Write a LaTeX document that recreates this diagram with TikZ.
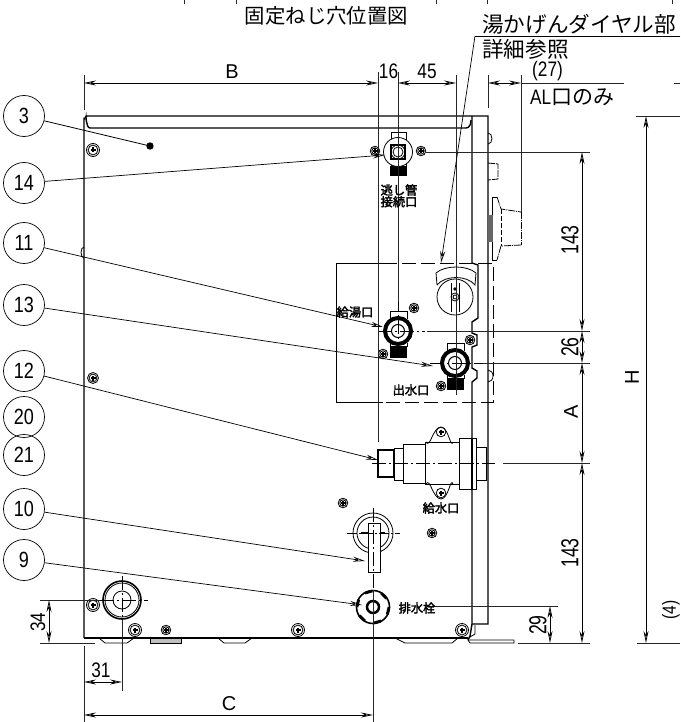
\documentclass[tikz,border=0pt]{standalone}
\usepackage{fontspec}
\setmainfont{Liberation Sans}
\newfontfamily\numfont[FakeStretch=0.82]{Liberation Sans}
\newfontfamily\tallfont[FakeStretch=0.72]{Liberation Sans}
\newfontfamily\jpfont{Noto Sans CJK JP}
\newfontfamily\jpbold[FakeBold=2.6]{Noto Sans CJK JP}
\usetikzlibrary{positioning, arrows.meta}
\tikzstyle{outline}=[line width=1.4pt, draw=black]
\tikzstyle{thinline}=[line width=.8pt, draw=black]
\tikzstyle{extline}=[line width=.8pt, draw=black!85]
\tikzstyle{centerline}=[line width=.7pt, draw=black, dash pattern=on 14pt off 3pt on 2pt off 3pt]
\tikzstyle{hiddenline}=[line width=.8pt, draw=black, dash pattern=on 14pt off 5pt]
\tikzstyle{dimline}=[line width=.8pt, draw=black, {Stealth[open,length=12pt,width=5pt]}-{Stealth[open,length=12pt,width=5pt]}]
\tikzstyle{leader}=[line width=.7pt, draw=black, -{Stealth[open,length=12pt,width=5pt]}]
\tikzstyle{partno}=[circle, minimum size=41pt, inner sep=0pt, draw=black, line width=.7pt, font=\numfont\fontsize{22}{22}\selectfont]
\tikzstyle{dimnum}=[inner sep=0pt, font=\numfont\fontsize{21}{21}\selectfont]
\tikzstyle{dimtall}=[inner sep=0pt, rotate=90, font=\tallfont\fontsize{24.5}{24.5}\selectfont]
\tikzstyle{dimletter}=[inner sep=0pt, font=\fontsize{20}{20}\selectfont]
\tikzstyle{jpbig}=[inner sep=0pt, font=\jpfont\fontsize{21.6}{21.6}\selectfont]
\tikzstyle{jpsmall}=[inner sep=0pt, font=\jpbold\fontsize{12.2}{12.2}\selectfont]
\begin{document}
\begin{tikzpicture}[x=1pt,y=-1pt]
    \useasboundingbox (0,0) rectangle (680,722);
    %ticks cut off by the top edge
    \foreach \x in {184,236,436,487,672}{
        \draw[extline] (\x,0) -- (\x,4);
    }
    \node[jpbig, font=\jpfont\fontsize{20.4}{20.4}\selectfont] (title) at (326.5,16) {固定ねじ穴位置図};
    \node[jpbig, anchor=west] (dial) at (482,24) {湯かげんダイヤル部};
    \node[jpbig, anchor=west] (detail) at (482,49) {詳細参照};
    \node[dimnum, anchor=west] (alonly) at (530,97) {AL\jpfont 口のみ};
    %cabinet
    \draw[outline] (84,638) -- (84,119) to[out=-90,in=180] (87,116) -- (488,116) -- (488,624) -- (472,624);
    \draw[outline] (86,118) to[out=90,in=180] (90,128) -- (466,128) to[out=0,in=-90] (471,120);
    \draw[outline] (84,638) -- (468,638);
    \draw[outline] (472,116) -- (472,263) -- (478,265) -- (478,318) -- (472,322) -- (472,333) -- (477,335) -- (477,345) -- (472,347) -- (472,368) -- (477,371) -- (477,378) -- (472,382) -- (472,624) -- (470,636) -- (468,640);
    \draw[thinline] (468,640) -- (514,640) -- (514,643) -- (470,643) -- (468,640);
    \draw[thinline] (475,625) -- (475,634) -- (470,637);
    %tabs under the bottom edge
    \draw[thinline] (99,638) -- (105,643) -- (127,643) -- (134,638);
    \draw[thinline, fill=black!25] (150,638) rectangle (181,643);
    \draw[thinline] (218,638) -- (224,643) -- (245,643) -- (252,638);
    \draw[thinline] (395,638) -- (405,643) -- (452,643) -- (458,638);
    %bumps on the edges
    \draw[thinline] (84,247) arc (-90:-270:3 and 5.5);
    \draw[thinline] (488,133) arc (-90:90:4 and 5.5);
    \draw[thinline] (488,370) arc (-90:90:5 and 6);
    \draw[thinline, dash pattern=on 7pt off 1pt] (488,163) -- (498,164) -- (498,179) -- (488,180);
    %knob at the side
    \draw[thinline] (497,260) -- (492,260) -- (492,197) -- (497,197);
    \draw[thinline, dash pattern=on 7pt off 1pt on 1pt off 1pt] (497,197) -- (501,209) -- (521,212);
    \draw[thinline, dash pattern=on 7pt off 1pt on 1pt off 1pt] (521,245) -- (501,246) -- (497,260);
    \draw[thinline, dash pattern=on 7pt off 1pt on 1pt off 1pt] (521,212) -- (521,245);
    \draw[thinline, dash pattern=on 5pt off 2pt] (501,209) -- (501,246);
    \fill[black!60] (488,215) rectangle (493,242);
    %dashed detail frame
    \draw[thinline] (383,263) -- (336,263) -- (336,402) -- (383,402);
    \draw[hiddenline] (383,263) -- (493,263) -- (493,402) -- (383,402);
    %screws
    \foreach \x/\y/\r in {93/150/6.5,375/151/4.8,421/151/4.8,414/308/4.8,383/354/4.8,470/340/4.8,441/386/4.8,93/378/5.5,343/503/4.8,432/533/4.8,93/605/6.5,135/630/6.5,166/630/4.8,298/630/6.5,462/630/6.5}{
        \draw[thinline, fill=white] (\x,\y) circle (\r);
        \draw[thinline] (\x,\y) circle (\r-1.6);
        \draw[line width=1.5pt] (\x-2.5,\y) -- (\x+2.5,\y) (\x,\y-2.5) -- (\x,\y+2.5);
    }
    %upper fitting
    \draw[thinline] (391,140) -- (391,132) -- (406,132) -- (406,140);
    \draw[thinline] (391,162) -- (391,166) (406,162) -- (406,166);
    \fill (390,166) rectangle (407,176);
    \draw[thinline, fill=white] (398,152) circle (14.5);
    \draw[line width=2.4pt] (391,145) rectangle (405,159);
    \draw[thinline] (398,152) circle (5) (398,152) circle (7);
    %lower fittings, same drawing
    \foreach \cx/\cy in {398/331,455/363}{
        \draw[thinline] (\cx-8,\cy-20) -- (\cx+9,\cy-20) (\cx-8,\cy-20) -- (\cx-8,\cy-12) (\cx+9,\cy-20) -- (\cx+9,\cy-12);
        \draw[thinline] (\cx-8,\cy+12) -- (\cx-8,\cy+16) (\cx+9,\cy+12) -- (\cx+9,\cy+16);
        \fill (\cx-8,\cy+15) rectangle (\cx+9,\cy+27);
        \draw[line width=4pt, fill=white] (\cx,\cy) circle (13);
        \draw[line width=1pt] (\cx,\cy) circle (6.5);
    }
    \draw[centerline] (378,331) -- (425,331);
    \draw[centerline] (398,298) -- (398,350);
    \draw[centerline] (430,363) -- (483,363);
    %mixing dial
    \draw[thinline] (455,297) circle (18);
    \draw[thinline] (437,285) -- (436,273) .. controls (445,265) and (467,265) .. (476,273) -- (475,285) .. controls (467,275) and (445,275) .. (437,285);
    \draw[thinline] (455,297) circle (4) (455,297) circle (2);
    \draw[thinline] (451,283) -- (451,312) (459,283) -- (459,312);
    \fill (455,289) circle (1.8);
    %supply connector
    \draw[thinline] (426,442) to[out=-60,in=180] (441,427) to[out=0,in=-110] (453,442);
    \draw[thinline] (426,484) to[out=60,in=180] (441,499) to[out=0,in=110] (453,484);
    \draw[line width=1.5pt, fill=white] (378,450) rectangle (394,477);
    \draw[thinline] (394,448) rectangle (403,480);
    \draw[thinline] (403,444) rectangle (425,483);
    \draw[thinline] (425,442) rectangle (459,484);
    \draw[thinline] (459,438) rectangle (476,489);
    \draw[thinline] (476,447) -- (486,447) -- (486,480) -- (476,480);
    \draw[line width=1.5pt] (472,438) -- (472,489);
    \foreach \x/\y in {441/432,441/493}{
        \draw[thinline, fill=white] (\x,\y) circle (4.8);
        \draw[line width=1.2pt] (\x-2.5,\y) -- (\x+2.5,\y) (\x,\y-2.5) -- (\x,\y+2.5);
    }
    %handle
    \draw[thinline] (373,533) circle (20) (373,533) circle (16);
    \draw[line width=1.4pt] (361,533) -- (385,533);
    \draw[thinline, fill=white] (368,523) rectangle (380,572);
    \draw[centerline] (373,508) -- (373,590);
    \draw[thinline, dash pattern=on 10pt off 2pt on 2pt off 2pt] (347,533) -- (400,533);
    %drain plug
    \draw[line width=1.6pt, fill=white] (373,607) circle (16.5);
    \foreach \a in {0,60,...,300}{
        \draw[line width=2.6pt] ([shift={(\a:16)}]373,607) -- ([shift={(\a+28:16)}]373,607);
    }
    \draw[line width=2.5pt] (373,607) circle (6);
    %big hole at lower left
    \draw[line width=1.6pt] (122,600) circle (19);
    \draw[thinline] (122,600) circle (17);
    \draw[thinline] (122,600) circle (9);
    \draw[centerline] (122,576) -- (122,622);
    \draw[centerline] (100,600) -- (148,600);
    %extension lines
    \draw[extline] (84,75) -- (84,110);
    \draw[extline] (378,72) -- (378,442);
    \draw[extline] (398,72) -- (398,302);
    \draw[extline] (456,75) -- (456,395);
    \draw[extline] (488,75) -- (488,108);
    \draw[extline] (521,75) -- (521,212);
    \draw[extline] (636,116) -- (680,116);
    \draw[extline] (426,152) -- (590,152);
    \draw[extline] (427,331) -- (590,331);
    \draw[extline] (483,363) -- (590,363);
    \draw[extline] (503,463) -- (590,463);
    \draw[centerline] (372,463) -- (495,463);
    \draw[extline] (427,606) -- (558,606);
    \draw[extline] (518,643) -- (590,643);
    \draw[extline] (637,643) -- (680,643);
    \draw[extline] (40,600) -- (100,600);
    \draw[extline] (40,643) -- (95,643);
    \draw[extline] (84,646) -- (84,722);
    \draw[extline] (122,620) -- (122,691);
    \draw[extline] (373,590) -- (373,722);
    %dimensions across the top
    \draw[dimline] (84,83) -- (378,83);
    \draw[dimline] (398,83) -- (456,83);
    \draw[dimline] (488,83) -- (521,83);
    \draw[extline] (521,83) -- (624,83);
    \draw[extline] (674,83) -- (680,83);
    \node[dimletter] (dimb) at (232,72) {B};
    \node[dimnum] (dim16) at (388.5,71) {16};
    \node[dimnum] (dim45) at (427,71) {45};
    \node[dimnum] (dim27) at (547.5,71) {(27)};
    %dimensions at the right
    \draw[dimline] (582,152) -- (582,331);
    \draw[dimline] (582,331) -- (582,363);
    \draw[dimline] (582,363) -- (582,463);
    \draw[dimline] (582,463) -- (582,643);
    \draw[dimline] (550,606) -- (550,643);
    \draw[dimline] (646,116) -- (646,643);
    \node[dimtall] (dimu) at (570,240) {143};
    \node[dimtall] (dimv) at (570,347) {26};
    \node[dimletter, rotate=90] (dima) at (571,412) {A};
    \node[dimtall] (dimw) at (570,553) {143};
    \node[dimtall] (dimx) at (538,625) {29};
    \node[dimletter, rotate=90] (dimh) at (632,377) {H};
    \node[dimnum, rotate=90, font=\numfont\fontsize{19}{19}\selectfont] (dimy) at (671,610) {(4)};
    %dimensions at the bottom left
    \draw[dimline] (49,600) -- (49,643);
    \draw[dimline] (84,682) -- (122,682);
    \draw[dimline] (84,715) -- (373,715);
    \node[dimnum, rotate=90] (dimz) at (38,622) {34};
    \node[dimnum] (dim31) at (101,670) {31};
    \node[dimletter] (dimc) at (229,704) {C};
    %part numbers with their leaders
    \foreach \n/\y/\tx/\ty in {14/183/385/155,11/243/383/327,13/305/433/366,12/371/378/460,10/509/365/561,9/560/362/605}{
        \node[partno] (c\n) at (24,\y) {\n};
        \coordinate (t\n) at (\tx,\ty);
        \draw[leader] (c\n) -- (t\n);
    }
    \foreach \n/\y in {20/417,21/455}{
        \node[partno] (c\n) at (24,\y) {\n};
    }
    \node[partno] (c3) at (24,116) {3};
    \coordinate (t3) at (150,146);
    \draw[thinline] (c3) -- (t3);
    \fill (t3) circle (3.7);
    \coordinate (bend) at (475,36);
    \coordinate (tdial) at (441,263);
    \draw[thinline] (680,36) -- (bend);
    \draw[leader] (bend) -- (tdial);
    %small labels on the panel
    \node[jpsmall] (outa) at (399,190) {逃し管};
    \node[jpsmall, below=0pt of outa] (outb) {接続口};
    \node[jpsmall] (hot) at (355,312) {給湯口};
    \node[jpsmall] (mix) at (411,390) {出水口};
    \node[jpsmall] (cold) at (441,508) {給水口};
    \node[jpsmall] (drain) at (417,608) {排水栓};
\end{tikzpicture}
\end{document}
